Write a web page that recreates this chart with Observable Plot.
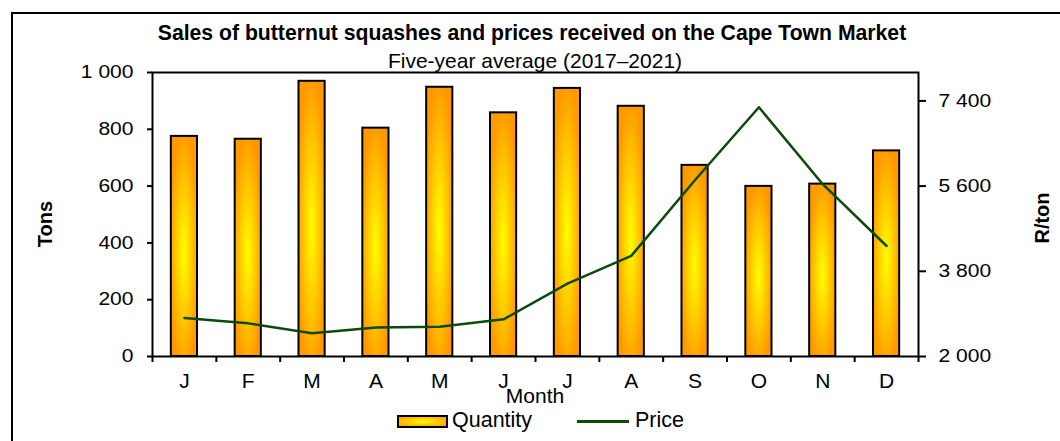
<!DOCTYPE html>
<html>
<head>
<meta charset="utf-8">
<script src="https://cdn.jsdelivr.net/npm/d3@7"></script>
<script src="https://cdn.jsdelivr.net/npm/@observablehq/plot@0.6"></script>
<style>
  html, body { margin: 0; padding: 0; background: #fff; overflow: hidden; }
  #wrap { position: relative; width: 1060px; height: 441px; overflow: hidden; font-family: "Liberation Sans", Arial, sans-serif; color: #000; }
  #wrap svg { position: absolute; left: 0; top: 0; }
  .ov { position: absolute; white-space: nowrap; line-height: 1; }
  #frame { position: absolute; left: 11px; top: 12px; width: 1200px; height: 600px; border: 2px solid #000; box-sizing: border-box; }
</style>
</head>
<body>
<div id="wrap">
  <div id="frame"></div>
</div>
<script>
// ---- data ----
const monthKeys = ["Jan","Feb","Mar","Apr","May","Jun","Jul","Aug","Sep","Oct","Nov","Dec"];
const monthLabels = ["J","F","M","A","M","J","J","A","S","O","N","D"];
const quantity = [775, 765, 969, 804, 948, 858, 944, 881, 673, 599, 607, 724];
const price = [2815, 2700, 2490, 2615, 2630, 2785, 3540, 4125, 5730, 7265, 5640, 4335];
const tonsTicks = [0, 200, 400, 600, 800, 1000];
const priceTicks = [2000, 3800, 5600, 7400];
const tonsDomain = [0, 1000];
const priceDomain = [2000, 8000];

const titleText = "Sales of butternut squashes and prices received on the Cape Town Market";
const subtitleText = "Five-year average (2017\u20132021)";

// ---- helpers ----
const fmt = d3.formatLocale({decimal: ".", thousands: "\u00a0", grouping: [3], currency: ["", ""]}).format(",d");
const toY = p => (p - priceDomain[0]) / (priceDomain[1] - priceDomain[0]) * (tonsDomain[1] - tonsDomain[0]) + tonsDomain[0];
const fromY = v => (v - tonsDomain[0]) / (tonsDomain[1] - tonsDomain[0]) * (priceDomain[1] - priceDomain[0]) + priceDomain[0];

const data = monthKeys.map((m, i) => ({month: m, label: monthLabels[i], quantity: quantity[i], price: price[i]}));

const W = 1060, H = 441;
const mL = 152, mR = 142, mT = 72, mB = 85;
const step = (W - mL - mR) / monthKeys.length;
const GREEN = "#0b4a0b";

const chart = Plot.plot({
  width: W, height: H,
  marginLeft: mL, marginRight: mR, marginTop: mT, marginBottom: mB,
  style: {fontFamily: "'Liberation Sans', Arial, sans-serif", fontSize: "21px", color: "#000", background: "transparent"},
  x: {type: "band", domain: monthKeys, paddingInner: 0.59, paddingOuter: 0.295, align: 0.5, round: false, label: null},
  y: {domain: tonsDomain, label: null},
  marks: [
    Plot.barY(data, {x: "month", y: "quantity", fill: "url(#barGrad)", stroke: "#000", strokeWidth: 2}),
    Plot.line(data, {x: "month", y: d => toY(d.price), stroke: GREEN, strokeWidth: 2.5}),
    Plot.frame({stroke: "#000", strokeWidth: 2}),
    Plot.axisY({anchor: "left", ticks: tonsTicks, tickFormat: fmt, tickSize: 5, tickPadding: 14, strokeWidth: 2, fontSize: 18, label: null}),
    Plot.axisY({anchor: "right", ticks: priceTicks.map(toY), tickFormat: v => fmt(Math.round(fromY(v))), tickSize: 7, tickPadding: 13, strokeWidth: 2, fontSize: 18, label: null}),
    Plot.axisX({anchor: "bottom", tickSize: 0, tickPadding: 17, tickFormat: d => monthLabels[monthKeys.indexOf(d)], label: null}),
    Plot.axisX({anchor: "bottom", tickSize: 6, text: null, dx: -step / 2, strokeWidth: 2, label: null}),
    Plot.axisX({anchor: "bottom", ticks: [monthKeys[monthKeys.length - 1]], tickSize: 6, text: null, dx: step / 2, strokeWidth: 2, label: null})
  ]
});

// gradient defs
const ns = "http://www.w3.org/2000/svg";
const defs = document.createElementNS(ns, "defs");
defs.innerHTML = `
  <radialGradient id="barGrad" cx="0.5" cy="0.53" r="0.55">
    <stop offset="0" stop-color="#ffff00"/>
    <stop offset="0.3" stop-color="#ffe000"/>
    <stop offset="1" stop-color="#ff9900"/>
  </radialGradient>`;
chart.insertBefore(defs, chart.firstChild);

// y tick labels are horizontally wider in the reference: stretch each about its own anchor
chart.querySelectorAll('g[aria-label="y-axis tick label"] text').forEach(t => {
  const tr = t.getAttribute("transform");
  if (tr) {
    t.setAttribute("transform", tr + " scale(1.17,1)");
  } else {
    const x = parseFloat(t.getAttribute("x")) || 0;
    t.setAttribute("transform", `translate(${x},0) scale(1.17,1) translate(${-x},0)`);
  }
});

const wrap = document.getElementById("wrap");
wrap.appendChild(chart);

function addText(txt, css) {
  const d = document.createElement("div");
  d.className = "ov";
  d.textContent = txt;
  Object.assign(d.style, css);
  wrap.appendChild(d);
  return d;
}

// title & subtitle (centered on plot area)
const cx = mL + (W - mL - mR) / 2;
addText(titleText, {left: (cx - 3) + "px", top: "22px", transform: "translateX(-50%)", fontWeight: "bold", fontSize: "21.2px"});
addText(subtitleText, {left: cx + "px", top: "50px", transform: "translateX(-50%)", fontSize: "21px"});

// axis labels
addText("Tons", {left: "45px", top: "224px", transform: "translate(-50%,-50%) rotate(-90deg)", fontWeight: "bold", fontSize: "20px"});
addText("R/ton", {left: "1042px", top: "218px", transform: "translate(-50%,-50%) rotate(-90deg)", fontWeight: "bold", fontSize: "20px"});
addText("Month", {left: cx + "px", top: "385px", transform: "translateX(-50%)", fontSize: "21px"});

// legend
const sw = document.createElement("div");
Object.assign(sw.style, {position: "absolute", left: "397px", top: "415px", width: "51px", height: "13px", border: "2px solid #000", boxSizing: "border-box",
  background: "radial-gradient(ellipse at center, #ffff00 0%, #ffe000 30%, #ff9900 100%)"});
wrap.appendChild(sw);
addText("Quantity", {left: "452px", top: "410px", fontSize: "21.5px"});
const ln = document.createElement("div");
Object.assign(ln.style, {position: "absolute", left: "577px", top: "420px", width: "52px", height: "2.5px", background: GREEN});
wrap.appendChild(ln);
addText("Price", {left: "635px", top: "410px", fontSize: "21.5px"});
</script>
</body>
</html>
